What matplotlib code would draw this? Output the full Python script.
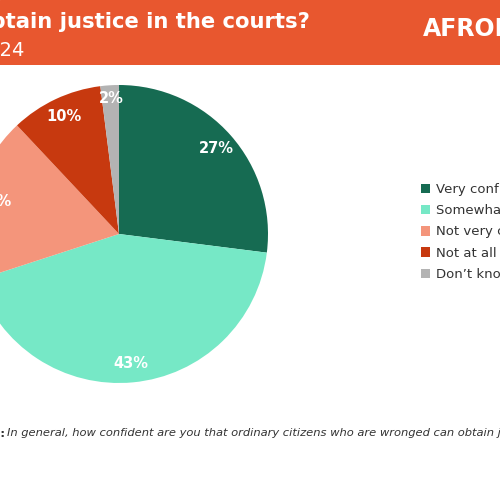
import matplotlib
matplotlib.use("Agg")
import matplotlib.pyplot as plt

# Confidence in the courts, share of respondents (%)
categories = [
    "Very confident",
    "Somewhat confident",
    "Not very confident",
    "Not at all confident",
    "Don\u2019t know",
]
shares = [27, 43, 18, 10, 2]
colors = ["#166b52", "#76e8c6", "#f4957b", "#c7390f", "#b3b3b3"]

title_tail = "obtain justice in the courts?"
subtitle = "2024"
question = "In general, how confident are you that ordinary citizens who are wronged can obtain justice in the courts?"

W, H = 500, 500
fig = plt.figure(figsize=(5, 5), dpi=100)
fig.patch.set_facecolor("white")


def fx(px):
    return px / W


def fy(py):
    return 1 - py / H


# header band
header = fig.add_axes([0, fy(65), 1, 65 / H])
header.set_axis_off()
header.add_patch(plt.Rectangle((0, 0), 1, 1, color="#e8572f", transform=header.transAxes))

fig.text(fx(310), fy(22), title_tail, ha="right", va="center", color="white",
         fontsize=15.2, fontweight="bold")
fig.text(fx(25), fy(51), subtitle, ha="right", va="center", color="white", fontsize=14)
fig.text(fx(423), fy(29), "AFROBAROMETER", ha="left", va="center", color="white",
         fontsize=17, fontweight="bold")

# pie, centre (119, 234) px, radius 149 px
cx, cy, r = 119, 234, 149
ax = fig.add_axes([fx(cx - r), fy(cy + r), 2 * r / W, 2 * r / H])
wedges, texts, autotexts = ax.pie(
    shares,
    colors=colors,
    startangle=90,
    counterclock=False,
    autopct=lambda p: f"{p:.0f}%",
    pctdistance=0.87,
    textprops={"color": "white", "fontsize": 10.5, "fontweight": "bold"},
)
autotexts[-1].set_y(autotexts[-1].get_position()[1] + 0.04)
ax.set_xlim(-1, 1)
ax.set_ylim(-1, 1)
ax.set_aspect("equal")

fig.legend(
    wedges,
    categories,
    loc="center left",
    bbox_to_anchor=(fx(421), fy(232)),
    frameon=False,
    fontsize=9.5,
    handlelength=0.7,
    handleheight=0.7,
    handletextpad=0.45,
    labelspacing=0.62,
    borderpad=0,
    borderaxespad=0,
    labelcolor="#333333",
)

# question footnote
fig.text(fx(5), fy(433), "Question:", ha="right", va="center", color="#333333",
         fontsize=8.25, fontweight="bold")
fig.text(fx(7), fy(433), question, ha="left", va="center", color="#333333",
         fontsize=8.25, style="italic")

fig.savefig("out.png", dpi=100)
